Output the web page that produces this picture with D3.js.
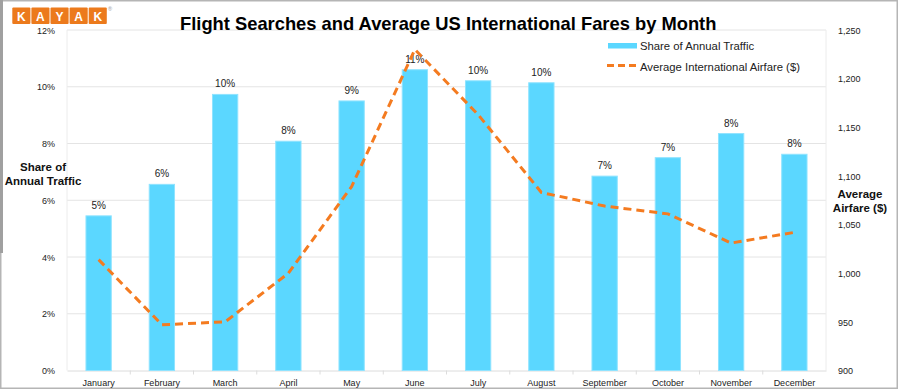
<!DOCTYPE html>
<html><head><meta charset="utf-8">
<script src="https://cdn.jsdelivr.net/npm/d3@7"></script>
<style>
html,body{margin:0;padding:0;background:#fff;}
svg{display:block;font-family:"Liberation Sans",Arial,Helvetica,sans-serif;}
</style></head>
<body>
<script>
const months = ["January","February","March","April","May","June","July","August","September","October","November","December"];
const share = [5.45, 6.56, 9.73, 8.08, 9.50, 10.60, 10.21, 10.14, 6.85, 7.50, 8.35, 7.62];
const shareLabels = ["5%","6%","10%","8%","9%","11%","10%","10%","7%","7%","8%","8%"];
const fare = [1014, 947, 950, 1000, 1089, 1230, 1163, 1083, 1069, 1061, 1031, 1042];
const leftTicks = [0, 2, 4, 6, 8, 10, 12];
const rightTicks = [900, 950, 1000, 1050, 1100, 1150, 1200, 1250];
const logoLetters = ["K","A","Y","A","K"];
const titleText = "Flight Searches and Average US International Fares by Month";
const legendItems = ["Share of Annual Traffic", "Average International Airfare ($)"];

const W = 900, H = 391;
const svg = d3.select("body").append("svg").attr("width", W).attr("height", H);

const plot = {l: 67, r: 826, t: 30, b: 370.5};
const x = d3.scaleBand().domain(months).range([plot.l, plot.r]).paddingInner(0.6).paddingOuter(0.3);
const xOuter = d3.scaleBand().domain(months).range([plot.l, plot.r]);
const yL = d3.scaleLinear().domain([0, 12]).range([plot.b, plot.t]);
const yR = d3.scaleLinear().domain([900, 1250]).range([plot.b, plot.t]);

// frame
svg.append("rect").attr("x", 0.75).attr("y", 0.75).attr("width", 896.5).attr("height", 387.5)
  .attr("fill", "none").attr("stroke", "#b5b5b5").attr("stroke-width", 1.5);
svg.append("line").attr("x1", 1.5).attr("x2", 1.5).attr("y1", 0).attr("y2", 253)
  .attr("stroke", "#a0a0a0").attr("stroke-width", 3);

// gridlines
svg.append("g").selectAll("line").data(leftTicks.filter(d => d > 0)).join("line")
  .attr("x1", plot.l).attr("x2", plot.r)
  .attr("y1", d => yL(d)).attr("y2", d => yL(d))
  .attr("stroke", "#e4e4e4").attr("stroke-width", 1);

// axis lines
svg.append("line").attr("x1", plot.l).attr("x2", plot.l).attr("y1", plot.t).attr("y2", plot.b).attr("stroke", "#ececec");
svg.append("line").attr("x1", plot.r).attr("x2", plot.r).attr("y1", plot.t).attr("y2", plot.b).attr("stroke", "#ececec");

// left axis
const axL = svg.append("g").attr("transform", `translate(${plot.l - 9},0)`)
  .call(d3.axisLeft(yL).tickValues(leftTicks).tickSize(0).tickFormat(d => d + "%"));
axL.select(".domain").remove();
axL.selectAll("text").attr("font-size", 9).attr("fill", "#222").attr("font-family", "Liberation Sans, Arial, sans-serif").attr("dx", 0).attr("dy", "0.35em");

// right axis
const axR = svg.append("g").attr("transform", `translate(${plot.r + 9},0)`)
  .call(d3.axisRight(yR).tickValues(rightTicks).tickSize(0).tickFormat(d3.format(",")));
axR.select(".domain").remove();
axR.selectAll("text").attr("font-size", 9).attr("fill", "#222").attr("font-family", "Liberation Sans, Arial, sans-serif").attr("dy", "0.35em");

// bottom axis
const axB = svg.append("g").attr("transform", `translate(0,${plot.b})`)
  .call(d3.axisBottom(xOuter).tickSize(0).tickPadding(9));
axB.select(".domain").attr("stroke", "#dcdcdc");
axB.selectAll("text").attr("font-size", 9).attr("fill", "#222").attr("font-family", "Liberation Sans, Arial, sans-serif");
// small tick marks between categories
svg.append("g").selectAll("line").data(months.slice(1)).join("line")
  .attr("x1", d => xOuter(d)).attr("x2", d => xOuter(d))
  .attr("y1", plot.b).attr("y2", plot.b + 4).attr("stroke", "#dcdcdc");

// bars
svg.append("g").selectAll("rect").data(months).join("rect")
  .attr("x", d => x(d)).attr("width", x.bandwidth())
  .attr("y", (d, i) => yL(share[i])).attr("height", (d, i) => plot.b - yL(share[i]))
  .attr("fill", "#5bd7ff").attr("stroke", "#8fe3ff").attr("stroke-width", 1);

// bar labels
svg.append("g").selectAll("text").data(months).join("text")
  .attr("x", d => x(d) + x.bandwidth() / 2).attr("y", (d, i) => yL(share[i]) - 7)
  .attr("text-anchor", "middle").attr("font-size", 10).attr("fill", "#222")
  .text((d, i) => shareLabels[i]);

// line
const line = d3.line().x((d, i) => x(months[i]) + x.bandwidth() / 2).y(d => yR(d));
svg.append("path").datum(fare).attr("d", line)
  .attr("fill", "none").attr("stroke", "#f47b20").attr("stroke-width", 3)
  .attr("stroke-dasharray", "8,5").attr("stroke-linejoin", "round");

// legend
const lg = svg.append("g");
lg.append("rect").attr("x", 608).attr("y", 43).attr("width", 29).attr("height", 5.5).attr("fill", "#5bd7ff");
lg.append("line").attr("x1", 607).attr("x2", 636).attr("y1", 65.5).attr("y2", 65.5)
  .attr("stroke", "#f47b20").attr("stroke-width", 3).attr("stroke-dasharray", "7,4");
lg.selectAll("text").data(legendItems).join("text")
  .attr("x", 640).attr("y", (d, i) => 50 + i * 20.5)
  .attr("font-size", 11.3).attr("fill", "#222").text(d => d);

// axis titles
const lt = svg.append("text").attr("text-anchor", "middle").attr("font-weight", "bold").attr("font-size", 11.5).attr("fill", "#111");
lt.append("tspan").attr("x", 43).attr("y", 171).text("Share of");
lt.append("tspan").attr("x", 43).attr("y", 185).text("Annual Traffic");
const rt = svg.append("text").attr("text-anchor", "middle").attr("font-weight", "bold").attr("font-size", 11.5).attr("fill", "#111");
rt.append("tspan").attr("x", 860).attr("y", 198).text("Average");
rt.append("tspan").attr("x", 860).attr("y", 212).text("Airfare ($)");

// title
const title = svg.append("text").attr("x", 180).attr("y", 29.5).attr("font-weight", "bold")
  .attr("font-size", 20).attr("fill", "#000").text(titleText);
const tw = title.node().getComputedTextLength();
title.attr("font-size", 20 * 537 / tw);

// KAYAK logo
const logo = svg.append("g");
const bw = 95.5 / 5;
logo.selectAll("rect").data(logoLetters).join("rect")
  .attr("x", (d, i) => 11.8 + i * bw + 0.5).attr("y", 7.5).attr("width", bw - 1).attr("height", 16.5)
  .attr("fill", "#ec7a1c").attr("rx", 1);
logo.selectAll("text").data(logoLetters).join("text")
  .attr("x", (d, i) => 11.8 + i * bw + bw / 2).attr("y", 20.5)
  .attr("text-anchor", "middle").attr("font-size", 12).attr("font-weight", "bold")
  .attr("fill", "#fff").text(d => d);
logo.append("text").attr("x", 108).attr("y", 11).attr("font-size", 5.5).attr("fill", "#999").text("®");
</script>
</body></html>
